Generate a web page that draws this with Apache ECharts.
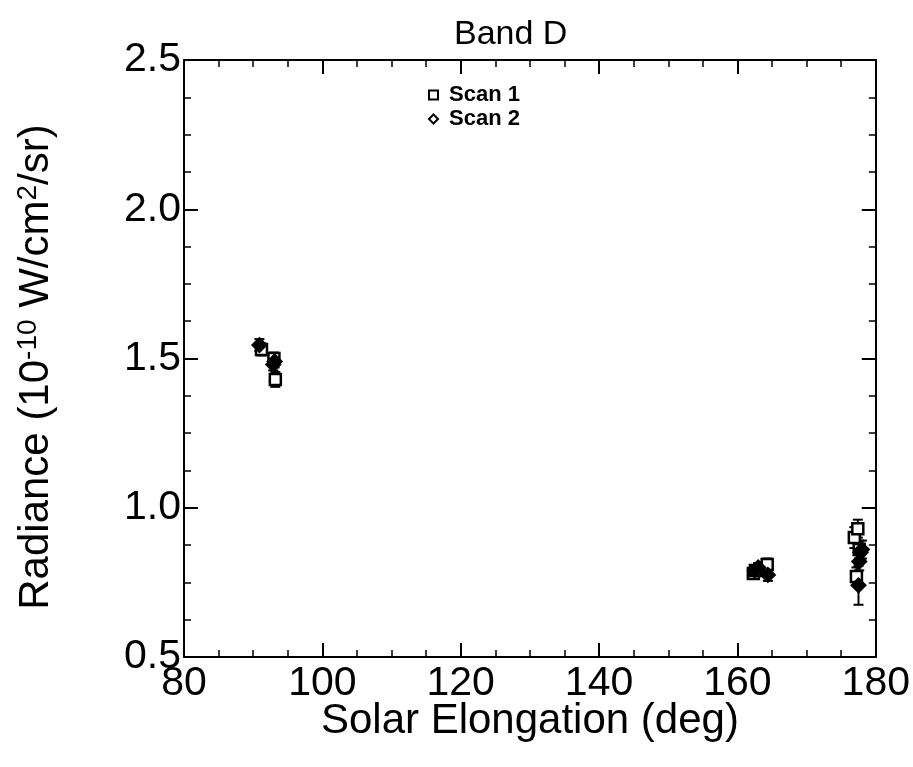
<!DOCTYPE html>
<html>
<head>
<meta charset="utf-8">
<script src="https://cdn.jsdelivr.net/npm/echarts@6/dist/echarts.min.js"></script>
<style>html,body{margin:0;padding:0;background:#fff}#c{width:913px;height:767px}</style>
</head>
<body>
<div id="c"></div>
<script>
const scan1X = [91.2, 93.0, 93.2, 162.3, 162.6, 164.3, 176.9, 177.4, 177.2, 177.6];
const scan1Y = [1.53, 1.50, 1.43, 0.78, 0.79, 0.81, 0.90, 0.93, 0.77, 0.86];
const scan1Err = [0.02, 0.02, 0.025, 0.015, 0.015, 0.02, 0.035, 0.03, 0.03, 0.03];
const scan2X = [90.9, 93.1, 92.9, 162.5, 163.0, 164.4, 177.8, 177.6, 177.5, 178.0];
const scan2Y = [1.545, 1.49, 1.48, 0.79, 0.80, 0.775, 0.85, 0.82, 0.74, 0.86];
const scan2Err = [0.02, 0.02, 0.02, 0.015, 0.015, 0.02, 0.03, 0.03, 0.065, 0.03];
const xTicks = [80, 100, 120, 140, 160, 180];
const yTicks = [0.5, 1.0, 1.5, 2.0, 2.5];

const FONT = 'Liberation Sans, Arial, sans-serif';
const pts = (xs, ys) => xs.map((x, i) => [x, ys[i]]);
const errs = (xs, ys, es) => xs.map((x, i) => [x, ys[i] - es[i], ys[i] + es[i]]);

function errRender(params, api) {
  const x = api.value(0);
  const lo = api.coord([x, api.value(1)]);
  const hi = api.coord([x, api.value(2)]);
  const w = 5;
  const st = { stroke: '#000', lineWidth: 2 };
  return { type: 'group', children: [
    { type: 'line', shape: { x1: lo[0], y1: lo[1], x2: hi[0], y2: hi[1] }, style: st },
    { type: 'line', shape: { x1: lo[0] - w, y1: lo[1], x2: lo[0] + w, y2: lo[1] }, style: st },
    { type: 'line', shape: { x1: hi[0] - w, y1: hi[1], x2: hi[0] + w, y2: hi[1] }, style: st }
  ]};
}

const axisCommon = {
  axisLine: { show: true, lineStyle: { color: '#000', width: 2 } },
  axisTick: { show: true, inside: true, length: 14, lineStyle: { color: '#000', width: 2 } },
  minorTick: { show: true, splitNumber: 4, length: 7, lineStyle: { color: '#000', width: 1.5 } },
  splitLine: { show: false }
};

const chart = echarts.init(document.getElementById('c'), null, { renderer: 'canvas' });
chart.setOption({
  backgroundColor: '#fff',
  animation: false,
  title: {
    text: 'Band D', left: 449, top: 13,
    textStyle: { fontFamily: FONT, fontSize: 34, fontWeight: 'normal', color: '#000' }
  },
  legend: {
    orient: 'vertical', left: 423, top: 79, itemGap: 2, itemWidth: 9, itemHeight: 9,
    textStyle: { fontFamily: FONT, fontSize: 22, fontWeight: 'bold', color: '#000', padding: [0, 0, 0, 6] },
    data: [
      { name: 'Scan 1', icon: 'rect', itemStyle: { color: '#fff', borderColor: '#000', borderWidth: 2 } },
      { name: 'Scan 2', icon: 'diamond', itemStyle: { color: '#fff', borderColor: '#000', borderWidth: 2 } }
    ]
  },
  graphic: [{
    type: 'text', x: 36, y: 367, rotation: Math.PI / 2,
    style: {
      text: '{n|Radiance (10}{s|-10}{n| W/cm}{s|2}{n|/sr)}',
      align: 'center', verticalAlign: 'middle',
      rich: {
        n: { fontFamily: FONT, fontSize: 42, fill: '#000' },
        s: { fontFamily: FONT, fontSize: 28, fill: '#000', verticalAlign: 'top', padding: [0, 0, 16, 0] }
      }
    }
  }],
  grid: { left: 184, right: 36, top: 60, bottom: 110 },
  xAxis: [
    Object.assign({
      type: 'value', min: xTicks[0], max: xTicks[xTicks.length - 1], interval: 20,
      name: 'Solar Elongation (deg)', nameLocation: 'middle', nameGap: 43, nameMoveOverlap: false,
      nameTextStyle: { fontFamily: FONT, fontSize: 42, color: '#000' },
      axisLabel: { fontFamily: FONT, fontSize: 41, color: '#000', margin: 6 }
    }, axisCommon),
    Object.assign({
      type: 'value', position: 'top', min: xTicks[0], max: xTicks[xTicks.length - 1], interval: 20,
      axisLabel: { show: false }
    }, axisCommon)
  ],
  yAxis: [
    Object.assign({
      type: 'value', min: yTicks[0], max: yTicks[yTicks.length - 1], interval: 0.5,
      axisLabel: { fontFamily: FONT, fontSize: 41, color: '#000', margin: 3, formatter: v => v.toFixed(1) }
    }, axisCommon),
    Object.assign({
      type: 'value', position: 'right', min: yTicks[0], max: yTicks[yTicks.length - 1], interval: 0.5,
      axisLabel: { show: false }
    }, axisCommon)
  ],
  series: [
    { type: 'custom', name: 'err1', renderItem: errRender, data: errs(scan1X, scan1Y, scan1Err), z: 1, silent: true },
    { type: 'custom', name: 'err2', renderItem: errRender, data: errs(scan2X, scan2Y, scan2Err), z: 1, silent: true },
    { type: 'scatter', name: 'Scan 1', symbol: 'rect', symbolSize: 11, data: pts(scan1X, scan1Y), z: 3,
      itemStyle: { color: '#fff', borderColor: '#000', borderWidth: 2.5, opacity: 1 } },
    { type: 'scatter', name: 'Scan 2', symbol: 'diamond', symbolSize: 14, data: pts(scan2X, scan2Y), z: 4,
      itemStyle: { color: '#000', borderColor: '#000', borderWidth: 2, opacity: 1 } }
  ]
});
</script>
</body>
</html>
